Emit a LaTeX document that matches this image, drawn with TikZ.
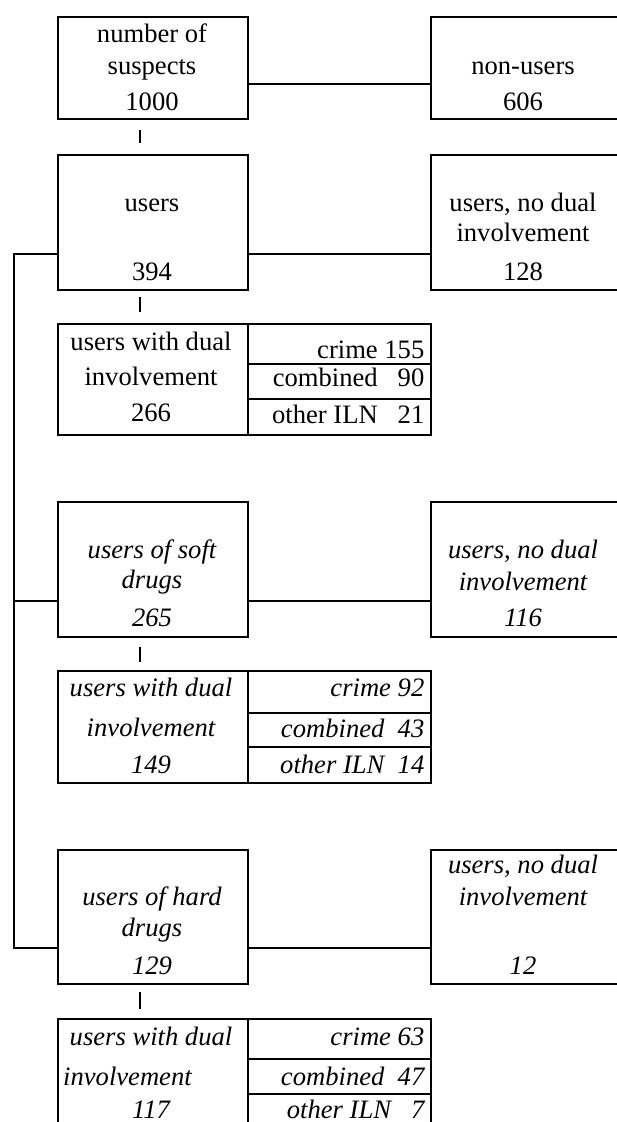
\documentclass[tikz,border=0pt]{standalone}
\usepackage{fontspec}
\setmainfont{Liberation Serif}
\begin{document}
\begin{tikzpicture}[x=1pt,y=-1pt,
  box/.style={draw,line width=1.8pt,inner sep=0pt,anchor=north west},
  conn/.style={line width=1.8pt},
  ctxt/.style={anchor=base,inner sep=0pt,font=\fontsize{26.6}{32}\selectfont},
  rtxt/.style={anchor=base east,inner sep=0pt,font=\fontsize{26.6}{32}\selectfont},
  ltxt/.style={anchor=base west,inner sep=0pt,font=\fontsize{26.6}{32}\selectfont},
  it/.style={font=\fontsize{26.6}{32}\selectfont\itshape}]
\useasboundingbox (0,0) rectangle (616,1122);
\coordinate (tx) at (140,0);
\coordinate (lx) at (14,0);
% ---------- row 1
\node[box,minimum width=190pt,minimum height=102pt] (A) at (57,16) {};
\node[box,minimum width=188pt,minimum height=102pt] (B) at (430,16) {};
\coordinate (yAB) at (0,84);
\draw[conn] (A.east |- yAB) -- (B.west |- yAB);
\node[ctxt] (tA1) at (152,42.7) {number of};
\node[ctxt] (tA2) at (152,74) {suspects};
\node[ctxt] (tA3) at (152,110) {1000};
\node[ctxt] (tB1) at (523,74) {non-users};
\node[ctxt] (tB2) at (523,110) {606};
% ---------- row 2
\node[box,minimum width=190pt,minimum height=135pt] (U) at (57,154) {};
\node[box,minimum width=188pt,minimum height=135pt] (R2) at (430,154) {};
\draw[conn] ([yshift=-10pt]A.south -| tx) -- ([yshift=11pt]U.north -| tx);
\coordinate (yU) at (0,254);
\draw[conn] (U.east |- yU) -- (R2.west |- yU);
\node[ctxt] (tU1) at (152,211.7) {users};
\node[ctxt] (tU2) at (152,280) {394};
\node[ctxt] (tR21) at (523,211.7) {users, no dual};
\node[ctxt] (tR22) at (523,241.7) {involvement};
\node[ctxt] (tR23) at (523,280) {128};
% dual 1
\node[box,minimum width=190pt,minimum height=111.3pt] (D1) at (57,322.7) {};
\node[box,minimum width=183pt,minimum height=40pt] (D1a) at (247,322.7) {};
\node[box,minimum width=183pt,minimum height=35.6pt] (D1b) at (247,362.7) {};
\node[box,minimum width=183pt,minimum height=35.7pt] (D1c) at (247,398.3) {};
\draw[conn] ([yshift=-6pt]U.south -| tx) -- ([yshift=11pt]D1.north -| tx);
\node[ctxt] (tD11) at (151,350.7) {users with dual};
\node[ctxt] (tD12) at (151,385) {involvement};
\node[ctxt] (tD13) at (151,421.7) {266};
\node[rtxt] (tD1a) at (424.5,358.3) {crime 155};
\node[rtxt] (tD1b) at (424.5,386.7) {combined \hphantom{0}90};
\node[rtxt] (tD1c) at (424.5,423.3) {other ILN \hphantom{0}21};
% ---------- row 3 (soft)
\node[box,minimum width=190pt,minimum height=135pt] (S) at (57,501) {};
\node[box,minimum width=188pt,minimum height=135pt] (R3) at (430,501) {};
\coordinate (yS) at (0,601);
\draw[conn] (S.east |- yS) -- (R3.west |- yS);
\node[ctxt,it] (tS1) at (152,558.3) {users of soft};
\node[ctxt,it] (tS2) at (152,588) {drugs};
\node[ctxt,it] (tS3) at (152,626.7) {265};
\node[ctxt,it] (tR31) at (523,558.3) {users, no dual};
\node[ctxt,it] (tR32) at (523,590) {involvement};
\node[ctxt,it] (tR33) at (523,626.7) {116};
% dual 2
\node[box,minimum width=190pt,minimum height=111.7pt] (D2) at (57,670) {};
\node[box,minimum width=183pt,minimum height=41.7pt] (D2a) at (247,670) {};
\node[box,minimum width=183pt,minimum height=34.3pt] (D2b) at (247,711.7) {};
\node[box,minimum width=183pt,minimum height=35.7pt] (D2c) at (247,746) {};
\draw[conn] ([yshift=-9pt]S.south -| tx) -- ([yshift=8.3pt]D2.north -| tx);
\node[ctxt,it] (tD21) at (151,696.7) {users with dual};
\node[ctxt,it] (tD22) at (151,736.7) {involvement};
\node[ctxt,it] (tD23) at (151,773.3) {149};
\node[rtxt,it] (tD2a) at (424.5,696.7) {crime 92};
\node[rtxt,it] (tD2b) at (424.5,737.7) {combined\ \ 43};
\node[rtxt,it] (tD2c) at (424.5,773.3) {other ILN\ \ 14};
% ---------- row 4 (hard)
\node[box,minimum width=190pt,minimum height=134pt] (H) at (57,849) {};
\node[box,minimum width=188pt,minimum height=134pt] (R4) at (430,849) {};
\coordinate (yH) at (0,948);
\draw[conn] (H.east |- yH) -- (R4.west |- yH);
\node[ctxt,it] (tH1) at (152,905) {users of hard};
\node[ctxt,it] (tH2) at (152,936.7) {drugs};
\node[ctxt,it] (tH3) at (152,974.3) {129};
\node[ctxt,it] (tR41) at (523,873.3) {users, no dual};
\node[ctxt,it] (tR42) at (523,905) {involvement};
\node[ctxt,it] (tR43) at (523,974.3) {12};
% dual 3
\node[box,minimum width=190pt,minimum height=108pt] (D3) at (57,1018.3) {};
\node[box,minimum width=183pt,minimum height=39.7pt] (D3a) at (247,1018.3) {};
\node[box,minimum width=183pt,minimum height=35pt] (D3b) at (247,1058) {};
\node[box,minimum width=183pt,minimum height=33pt] (D3c) at (247,1093) {};
\draw[conn] ([yshift=-7pt]H.south -| tx) -- ([yshift=9.3pt]D3.north -| tx);
\node[ctxt,it] (tD31) at (151,1045) {users with dual};
\node[ltxt,it] (tD32) at (63,1085) {involvement};
\node[ctxt,it] (tD33) at (151,1118) {117};
\node[rtxt,it] (tD3a) at (424.5,1045) {crime 63};
\node[rtxt,it] (tD3b) at (424.5,1085) {combined\ \ 47};
\node[rtxt,it] (tD3c) at (424.5,1118) {other ILN\ \ \ 7};
% ---------- left trunk
\draw[conn] (U.west |- yU) -- (lx |- yU) -- (lx |- yH) -- (H.west |- yH);
\draw[conn] (lx |- yS) -- (S.west |- yS);
\end{tikzpicture}
\end{document}
